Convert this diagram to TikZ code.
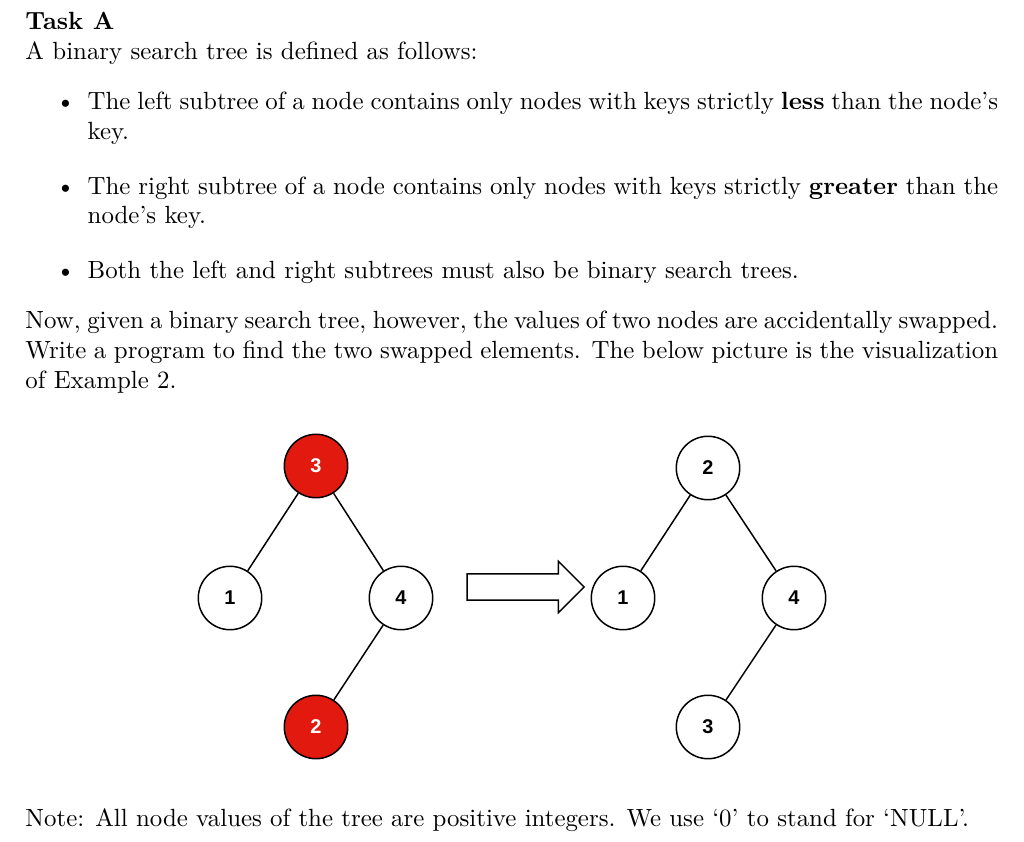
\documentclass[tikz,border=0pt]{standalone}
\usepackage{fontspec}
\usepackage{amsmath}
\usepackage{xcolor}
\usetikzlibrary{positioning,shapes.arrows}
\newfontfamily\keyfont{Liberation Sans}
\definecolor{swapred}{HTML}{E1190E}

\tikzset{
  key/.style={draw,circle,line width=0.6pt,minimum size=25.5pt,inner sep=0pt,
    font=\keyfont\bfseries\footnotesize},
  swapped/.style={key,fill=swapred,text=white},
  edge/.style={line width=0.6pt}
}

\begin{document}
\begin{tikzpicture}[x=0.402pt,y=-0.402pt]
     \useasboundingbox (0,0) rectangle (1024,842);

     %Statement
     \node[anchor=north west,inner sep=0pt,text width=391pt,align=justify] (text) at (25,12) {%
       \textbf{Task A}\\
       A binary search tree is defined as follows:
       \begin{itemize}\setlength{\itemsep}{6pt}\setlength{\topsep}{12pt}
         \item The left subtree of a node contains only nodes with keys strictly \textbf{less} than the node's key.
         \item The right subtree of a node contains only nodes with keys strictly \textbf{greater} than the node's key.
         \item Both the left and right subtrees must also be binary search trees.
       \end{itemize}
       Now, given a binary search tree, however, the values of two nodes are accidentally swapped.
       Write a program to find the two swapped elements. The below picture is the visualization
       of Example 2.};

     %Tree before
     \node[swapped] (a3) at (316,466) {3};
     \node[key]     (a1) at (230,598) {1};
     \node[key]     (a4) at (401,598) {4};
     \node[swapped] (a2) at (316,727) {2};
     \draw[edge] (a3) -- (a1);
     \draw[edge] (a3) -- (a4);
     \draw[edge] (a4) -- (a2);

     %Arrow
     \node[single arrow,draw,line width=0.6pt,minimum height=47pt,inner xsep=0pt,inner ysep=5pt,
       single arrow head extend=5pt,single arrow head indent=0pt] (swap) at (519,587) {};

     %Tree after
     \node[key] (b2) at (708,468) {2};
     \node[key] (b1) at (623,598) {1};
     \node[key] (b4) at (794,598) {4};
     \node[key] (b3) at (708,727) {3};
     \draw[edge] (b2) -- (b1);
     \draw[edge] (b2) -- (b4);
     \draw[edge] (b4) -- (b3);

     %Note
     \node[anchor=base west,inner sep=0pt] (note) at (25,826)
       {Note: All node values of the tree are positive integers. We use `0' to stand for `NULL'.};
\end{tikzpicture}
\end{document}
